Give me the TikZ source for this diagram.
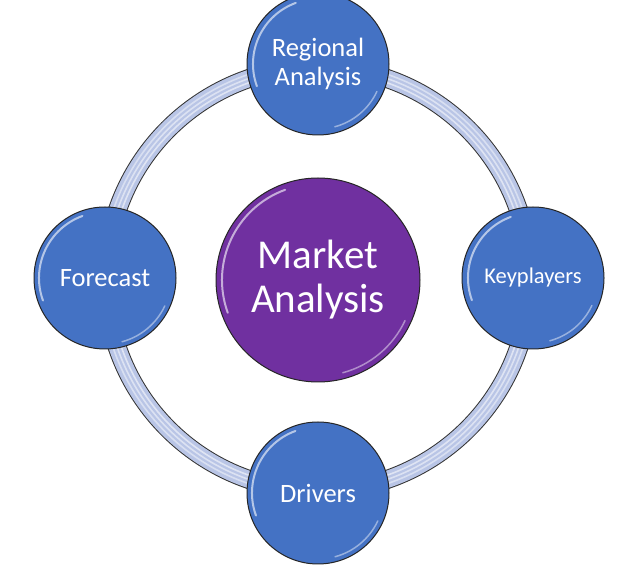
\documentclass[tikz,border=0pt]{standalone}
\usepackage{fontspec}
\setmainfont{Carlito}
\usetikzlibrary{calc}
\definecolor{bluefill}{HTML}{4472C4}
\definecolor{purplefill}{HTML}{7030A0}
\definecolor{ringfill}{HTML}{B9C5E6}
\begin{document}
\begin{tikzpicture}[x=1pt,y=1pt,
  ball/.style={circle, draw=black!85, line width=1pt, text=white, align=center, inner sep=0pt},
  blueball/.style={ball, fill=bluefill, minimum size=142pt},
  purpleball/.style={ball, fill=purplefill, minimum size=204pt},
  ringline/.style={line width=19pt, draw=black!80},
  ringbody/.style={line width=17pt, draw=ringfill},
  ringshine/.style={draw=white, opacity=0.5},
  glare/.style={draw=white, opacity=0.6, line width=2pt, line cap=round},
  smallglare/.style={draw=white, opacity=0.45, line width=1.5pt, line cap=round}]
\useasboundingbox (0,0) rectangle (640,570);
\fill[white] (0,0) rectangle (640,570);
\coordinate (ring) at (318,291);
% ring
\draw[ringline] (ring) circle (212);
\draw[ringbody] (ring) circle (212);
\draw[ringshine, line width=1.6pt, opacity=0.55] (ring) circle (208);
\draw[ringshine, line width=1.6pt, opacity=0.5] (ring) circle (212);
\draw[ringshine, line width=1.6pt, opacity=0.45] (ring) circle (216);
% nodes
\node[purpleball, font=\fontsize{41}{44}\selectfont] (mkt) at (318,290) {Market\\Analysis};
\node[blueball, font=\fontsize{26.5}{29}\selectfont] (reg) at (318,506) {Regional\\Analysis};
\node[blueball, font=\fontsize{22.5}{26}\selectfont] (key) at (533,292) {Keyplayers};
\node[blueball, font=\fontsize{26.5}{30}\selectfont] (fore) at (105,292) {Forecast};
\node[blueball, font=\fontsize{26.5}{30}\selectfont] (drv) at (318,77) {Drivers};
% highlights
\foreach \n/\rr in {mkt/96,reg/65,key/65,fore/66,drv/66}{
  \draw[glare] ($(\n.center)+(110:\rr)$) arc (110:200:\rr);
  \draw[smallglare] ($(\n.center)+(285:\rr)$) arc (285:335:\rr);
}
\end{tikzpicture}
\end{document}
